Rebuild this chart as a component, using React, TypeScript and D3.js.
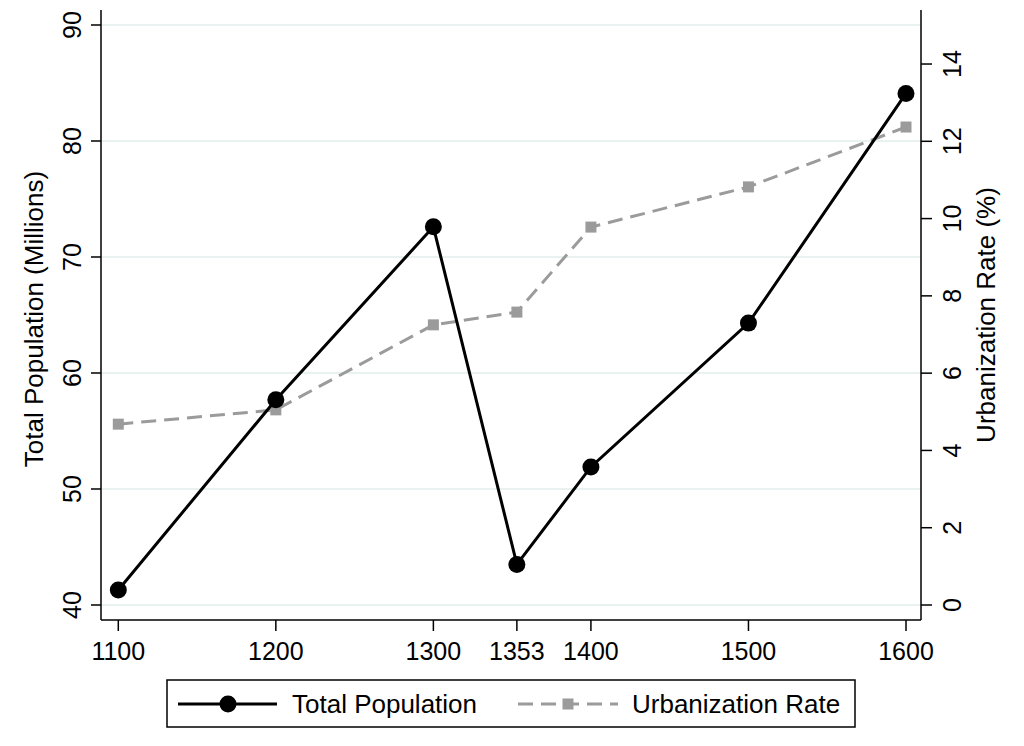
import React from "react";
import * as d3 from "d3";

const years = [1100, 1200, 1300, 1353, 1400, 1500, 1600];
const population = [41.3, 57.7, 72.6, 43.5, 51.9, 64.3, 84.1];
const urbanization = [4.68, 5.05, 7.25, 7.58, 9.78, 10.82, 12.37];
const xTicks = [1100, 1200, 1300, 1353, 1400, 1500, 1600];
const leftTicks = [40, 50, 60, 70, 80, 90];
const rightTicks = [0, 2, 4, 6, 8, 10, 12, 14];

const W = 1024;
const H = 746;
const X0 = 101;
const X1 = 921;
const YT = 10;
const YB = 620;
const FONT = "Liberation Sans, Arial, sans-serif";

export default function App() {
  const x = d3.scaleLinear().domain([1100, 1600]).range([118.3, 906]);
  const yL = d3.scaleLinear().domain([40, 90]).range([605, 25]);
  const yR = d3.scaleLinear().domain([0, 12]).range([605, 141.3]);

  const popLine = d3
    .line<number>()
    .x((_, i) => x(years[i]))
    .y((d) => yL(d))(population) as string;
  const urbLine = d3
    .line<number>()
    .x((_, i) => x(years[i]))
    .y((d) => yR(d))(urbanization) as string;

  const gray = "#9b9b9b";

  return (
    <svg
      width={W}
      height={H}
      style={{ position: "absolute", left: 0, top: 0, background: "#fff" }}
      fontFamily={FONT}
    >
      <rect x={0} y={0} width={W} height={H} fill="#fff" />
      {leftTicks.map((t) => (
        <line key={"g" + t} x1={X0} x2={X1} y1={yL(t)} y2={yL(t)} stroke="#e3ecec" strokeWidth={1.5} />
      ))}
      <line x1={X0} x2={X0} y1={YT} y2={YB} stroke="#000" strokeWidth={1.5} />
      <line x1={X1} x2={X1} y1={YT} y2={YB} stroke="#000" strokeWidth={1.5} />
      <line x1={X0} x2={X1} y1={YB} y2={YB} stroke="#000" strokeWidth={1.5} />
      {leftTicks.map((t) => (
        <g key={"l" + t}>
          <line x1={X0 - 10} x2={X0} y1={yL(t)} y2={yL(t)} stroke="#000" strokeWidth={1.5} />
          <text
            transform={`translate(${81},${yL(t)}) rotate(-90)`}
            textAnchor="middle"
            fontSize={25}
          >
            {t}
          </text>
        </g>
      ))}
      {rightTicks.map((t) => (
        <g key={"r" + t}>
          <line x1={X1} x2={X1 + 11} y1={yR(t)} y2={yR(t)} stroke="#000" strokeWidth={1.5} />
          <text
            transform={`translate(${943},${yR(t)}) rotate(-90)`}
            textAnchor="middle"
            fontSize={25}
            dy="0.72em"
          >
            {t}
          </text>
        </g>
      ))}
      {xTicks.map((t) => (
        <g key={"b" + t}>
          <line x1={x(t)} x2={x(t)} y1={YB} y2={YB + 11} stroke="#000" strokeWidth={1.5} />
          <text x={x(t)} y={660} textAnchor="middle" fontSize={25}>
            {t}
          </text>
        </g>
      ))}
      <text transform={`translate(43,${319}) rotate(-90)`} textAnchor="middle" fontSize={26}>
        Total Population (Millions)
      </text>
      <text transform={`translate(995,${315}) rotate(-90)`} textAnchor="middle" fontSize={26}>
        Urbanization Rate (%)
      </text>
      <path d={urbLine} fill="none" stroke={gray} strokeWidth={3} strokeDasharray="15,8" />
      {urbanization.map((d, i) => (
        <rect key={"u" + i} x={x(years[i]) - 5.5} y={yR(d) - 5.5} width={11} height={11} fill={gray} />
      ))}
      <path d={popLine} fill="none" stroke="#000" strokeWidth={3} />
      {population.map((d, i) => (
        <circle key={"p" + i} cx={x(years[i])} cy={yL(d)} r={8.5} fill="#000" />
      ))}
      <rect x={167} y={680} width={688} height={47} fill="#fff" stroke="#000" strokeWidth={1.5} />
      <line x1={178} x2={277} y1={704} y2={704} stroke="#000" strokeWidth={3} />
      <circle cx={228} cy={704} r={8.5} fill="#000" />
      <text x={292} y={713} fontSize={26}>
        Total Population
      </text>
      <line x1={518} x2={618} y1={704} y2={704} stroke={gray} strokeWidth={3} strokeDasharray="15,8" />
      <rect x={562.5} y={698.5} width={11} height={11} fill={gray} />
      <text x={632} y={713} fontSize={26}>
        Urbanization Rate
      </text>
    </svg>
  );
}
